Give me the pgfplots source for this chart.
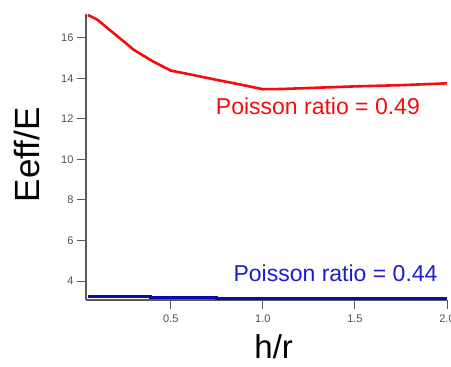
\documentclass[border=0pt]{standalone}
\usepackage{pgfplots}
\pgfplotsset{compat=1.18}
\usepackage{fontspec}
\setmainfont{Liberation Sans}
\definecolor{axgray}{RGB}{90,90,90}
\definecolor{tickgray}{RGB}{80,80,80}
\definecolor{redline}{RGB}{250,10,10}
\definecolor{blueline}{RGB}{10,10,175}
\definecolor{bluetext}{RGB}{30,30,205}
\begin{document}
\begin{tikzpicture}
\useasboundingbox (-86pt,-67pt) rectangle (365pt,300pt);
\begin{axis}[
  at={(0pt,0pt)}, anchor=south west,
  scale only axis,
  width=361pt, height=286pt,
  xmin=0.04, xmax=2.0,
  ymin=3.064, ymax=17.17,
  axis lines*=left,
  axis line style={axgray, line width=1.2pt, -},
  xtick={0.5,1.0,1.5,2.0},
  ytick={4,6,8,10,12,14,16},
  x tick label style={/pgf/number format/fixed, /pgf/number format/fixed zerofill, /pgf/number format/precision=1, yshift=-2pt},
  /pgf/number format/assume math mode=true,
  tick style={axgray, line width=0.9pt},
  tick align=outside,
  major tick length=9pt,
  ticklabel style={font=\fontsize{11}{13}\selectfont, text=tickgray},
  xlabel={h/r},
  ylabel={Eeff/E},
  xlabel style={at={(axis description cs:0.52,-0.165)}, anchor=center, font=\fontsize{33}{38}\selectfont},
  ylabel style={at={(axis description cs:-0.163,0.507)}, anchor=center, font=\fontsize{35}{40}\selectfont},
  clip=false,
]
\addplot[redline, line width=2.6pt] coordinates {
 (0.05,17.12) (0.1,16.9) (0.2,16.15) (0.3,15.4) (0.4,14.85) (0.5,14.38)
 (0.6,14.2) (0.75,13.92) (0.9,13.65) (1.0,13.46) (1.1,13.47) (1.25,13.52)
 (1.5,13.6) (1.75,13.66) (2.0,13.75)
};
\addplot[blueline, line width=3pt] coordinates {
 (0.05,3.25) (0.39,3.25) (0.39,3.2) (0.75,3.2) (0.75,3.16) (2.0,3.16)
};
\node[text=redline, font=\fontsize{23}{27}\selectfont, anchor=center] at (axis cs:1.299,12.6) {Poisson ratio = 0.49};
\node[text=bluetext, font=\fontsize{23}{27}\selectfont, anchor=center] at (axis cs:1.395,4.39) {Poisson ratio = 0.44};
\end{axis}
\end{tikzpicture}
\end{document}
